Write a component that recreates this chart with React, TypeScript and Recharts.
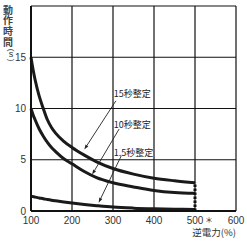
import React from 'react';
import { LineChart, Line, XAxis, YAxis, CartesianGrid, ReferenceLine, ReferenceDot, Customized } from 'recharts';

const xValues = [100, 105, 110, 120, 130, 140, 150, 160, 180, 200, 230, 260, 300, 350, 400, 450, 500];
const s15 = [15, 13.8, 12.8, 11.2, 10.0, 8.9, 8.15, 7.6, 6.8, 6.2, 5.45, 4.8, 4.15, 3.6, 3.2, 2.95, 2.75];
const s10 = [10, 9.4, 8.9, 8.0, 7.3, 6.7, 6.2, 5.8, 5.1, 4.6, 3.85, 3.25, 2.75, 2.35, 2.0, 1.8, 1.72];
const s15s = [1.45, 1.4, 1.35, 1.27, 1.2, 1.12, 1.05, 0.99, 0.88, 0.78, 0.64, 0.52, 0.38, 0.28, 0.22, 0.18, 0.15];

const xTicks = [100, 200, 300, 400, 500, 600];
const yTicks = [0, 5, 10, 15, 20];
const seriesLabels = ['15秒整定', '10秒整定', '1.5秒整定'];
const yTitle = '動作時間';
const yUnit = 's';
const xTitle = '逆電力(%)';
const limitX = 500;

// annotation geometry (data coordinates): label position, arrow start, arrow tip
const annLabelX = [302, 302, 302];
const annLabelY = [11.4, 8.4, 5.66];
const annStartX = [307, 315, 320];
const annStartY = [10.75, 8.0, 5.37];
const annTipX = [230, 249, 265];
const annTipY = [6.0, 3.55, 0.8];

const data = xValues.map((x, i) => ({ x, a: s15[i], b: s10[i], c: s15s[i] }));

const FONT_NUM = '"Liberation Sans", Arial, sans-serif';
const FONT_JP = '"Noto Sans CJK JP", "Noto Sans", sans-serif';
const TXT = '#333';

const XTick = (props: any) => {
  const { x, y, payload } = props;
  return (
    <g>
      <text x={x} y={y + 11} textAnchor="middle" fontSize={10} fontFamily={FONT_NUM} fill={TXT}>
        {payload.value}
      </text>
      {payload.value === limitX ? (
        <text x={x + 14} y={y + 10} textAnchor="middle" fontSize={8} fontFamily={FONT_JP} fill={TXT}>
          ＊
        </text>
      ) : null}
    </g>
  );
};

const YTick = (props: any) => {
  const { x, y, payload } = props;
  if (payload.value === 20) return <g />;
  return (
    <text x={x - 3} y={y} dy="0.36em" textAnchor="end" fontSize={10} fontFamily={FONT_NUM} fill={TXT}>
      {payload.value}
    </text>
  );
};

const Arrow = (p: any) => {
  const { x1, y1, x2, y2 } = p;
  const dx = x2 - x1;
  const dy = y2 - y1;
  const len = Math.sqrt(dx * dx + dy * dy) || 1;
  const ux = dx / len;
  const uy = dy / len;
  const L = 5;
  const W = 1.7;
  const bx = x2 - ux * L;
  const by = y2 - uy * L;
  return (
    <g>
      <line x1={x1} y1={y1} x2={bx} y2={by} stroke="#222" strokeWidth={0.9} />
      <polygon
        points={`${x2},${y2} ${bx - uy * W},${by + ux * W} ${bx + uy * W},${by - ux * W}`}
        fill="#222"
      />
    </g>
  );
};

const Titles = () => (
  <g>
    <text
      x={8}
      y={5}
      style={{ writingMode: 'vertical-rl' as any }}
      fontSize={10}
      letterSpacing={0.7}
      fontWeight="bold"
      fontFamily={FONT_JP}
      fill="#444"
    >
      {yTitle}
    </text>
    <text x={11} y={50} transform="rotate(90 11 50)" textAnchor="middle" dominantBaseline="central" fontSize={8} fontFamily={FONT_NUM} fill={TXT}>(</text>
    <text x={11} y={57} textAnchor="middle" fontSize={9} fontFamily={FONT_NUM} fill={TXT}>{yUnit}</text>
    <text x={11} y={60} transform="rotate(90 11 60)" textAnchor="middle" dominantBaseline="central" fontSize={8} fontFamily={FONT_NUM} fill={TXT}>)</text>
    <text x={236} y={236} textAnchor="end" fontSize={9.5} fontFamily={FONT_JP} fill={TXT}>{xTitle}</text>
  </g>
);

export default function App() {
  return (
    <div style={{ position: 'absolute', left: 0, top: 0 }}>
      <LineChart width={247} height={241} data={data} margin={{ top: 6, right: 11, left: 0, bottom: 0 }}>
        <CartesianGrid stroke="#111" strokeWidth={1.2} strokeOpacity={1} />
        <XAxis
          dataKey="x"
          type="number"
          domain={[100, 600]}
          ticks={xTicks}
          tickLine={false}
          tickSize={0}
          height={30}
          axisLine={{ stroke: '#111', strokeWidth: 2 }}
          tick={<XTick />}
          interval={0}
        />
        <YAxis
          type="number"
          domain={[0, 20]}
          ticks={yTicks}
          tickLine={false}
          tickSize={0}
          width={31}
          axisLine={{ stroke: '#111', strokeWidth: 2 }}
          tick={<YTick />}
          interval={0}
        />
        <Line dataKey="a" type="monotone" stroke="#1a1a1a" strokeWidth={3} dot={false} isAnimationActive={false} />
        <Line dataKey="b" type="monotone" stroke="#1a1a1a" strokeWidth={3} dot={false} isAnimationActive={false} />
        <Line dataKey="c" type="monotone" stroke="#1a1a1a" strokeWidth={3} dot={false} isAnimationActive={false} />
        <ReferenceLine
          segment={[{ x: limitX, y: 0 }, { x: limitX, y: s15[s15.length - 1] }]}
          stroke="#111"
          strokeWidth={3}
          strokeDasharray="2.5 1.5"
        />
        {seriesLabels.map((lab, i) => (
          <ReferenceLine
            key={'arr' + i}
            segment={[{ x: annStartX[i], y: annStartY[i] }, { x: annTipX[i], y: annTipY[i] }]}
            shape={Arrow}
          />
        ))}
        {seriesLabels.map((lab, i) => (
          <ReferenceDot
            key={'lab' + i}
            x={annLabelX[i]}
            y={annLabelY[i]}
            r={0}
            shape={(p: any) => (
              <text x={p.cx} y={p.cy} dy="0.36em" fontSize={9} fontFamily={FONT_JP} fill="#222">
                {lab}
              </text>
            )}
          />
        ))}
        <Customized component={Titles} />
      </LineChart>
    </div>
  );
}
